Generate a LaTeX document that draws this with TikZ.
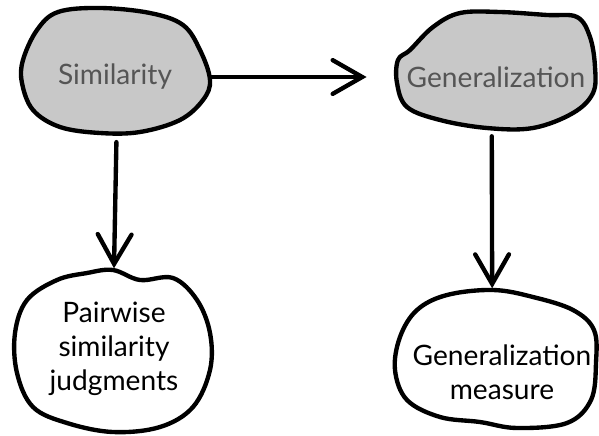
\documentclass[tikz,border=0pt]{standalone}
\usepackage{fontspec}
\setmainfont{Lato}
\usetikzlibrary{shapes.geometric, arrows.meta}
\definecolor{blobgray}{HTML}{C8C8C8}
\definecolor{textgray}{HTML}{555555}
\tikzstyle{blobtext} = [ellipse, text centered, align=center, inner sep=0pt, font=\fontsize{20}{24}\selectfont]
\tikzstyle{blob} = [line width=3.1pt, line join=round, draw=black]
\tikzstyle{arrow} = [line width=3.1pt, line cap=round, -{Straight Barb[length=21pt, width=24pt, line cap=round]}]

\begin{document}
\begin{tikzpicture}[x=0.025cm, y=-0.025cm]
		\useasboundingbox (0,0) rectangle (599,435);
		\draw [blob, fill=blobgray] plot[smooth cycle, tension=0.6] coordinates {(58,12) (100,8) (150,13) (183,25) (200,50) (210,80) (203,100) (180,120) (140,132) (100,133) (60,127) (33,110) (22,83) (23,60) (37,30)};
		\draw [blob, fill=blobgray] plot[smooth cycle, tension=0.6] coordinates {(410,50) (433,27) (460,13) (500,12) (547,15) (577,17) (590,37) (595,67) (593,93) (573,113) (533,128) (487,128) (440,120) (407,107) (397,83) (398,60)};
		\draw [blob, fill=white] plot[smooth cycle, tension=0.6] coordinates {(113,270) (140,280) (173,278) (197,300) (210,333) (210,370) (193,407) (160,427) (113,432) (67,423) (33,407) (17,373) (15,333) (27,300) (57,280) (87,273)};
		\draw [blob, fill=white] plot[smooth cycle, tension=0.6] coordinates {(493,290) (533,297) (573,310) (594,330) (596,363) (591,400) (567,423) (517,428) (480,422) (440,417) (407,400) (395,370) (400,337) (417,310) (447,295)};
		\node (sim) [blobtext, text=textgray, minimum width=4.75cm, minimum height=3.1cm] at (115,77) {Similarity};
		\node (gen) [blobtext, text=textgray, minimum width=4.95cm, minimum height=2.95cm] at (496,77) {Generalization};
		\node (pair) [blobtext, minimum width=4.9cm, minimum height=3.95cm] at (114,349) {Pairwise\\similarity\\judgments};
		\node (meas) [blobtext, minimum width=5cm, minimum height=4.1cm] at (502,372) {Generalization\\measure};
		\draw [arrow] (sim.east) -- ([xshift=-2pt]gen.west);
		\draw [arrow] ([xshift=1pt, yshift=-2pt]sim.south) -- ([yshift=1pt]pair.north);
		\draw [arrow] ([xshift=-3pt]gen.south) -- ([xshift=-7pt, yshift=1pt]meas.north);
\end{tikzpicture}
\end{document}
